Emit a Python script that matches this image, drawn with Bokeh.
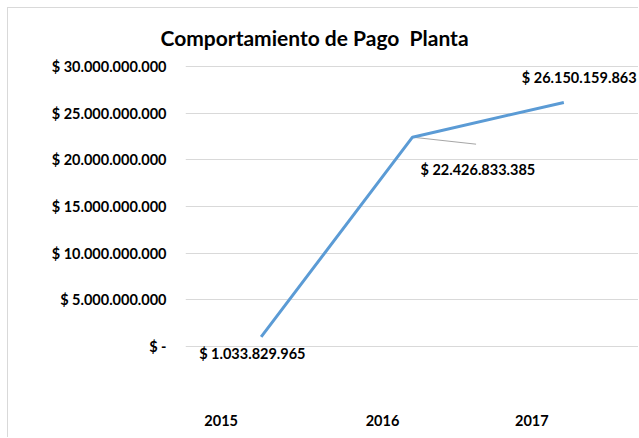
from bokeh.plotting import figure
from bokeh.models import ColumnDataSource, FactorRange, Range1d, FixedTicker
from bokeh.transform import dodge
from bokeh.core.properties import value
from bokeh.embed import file_html
from bokeh.resources import INLINE

# ---- data ----
years = ["2015", "2016", "2017"]
pagos = [1033829965, 22426833385, 26150159863]
pago_labels = ["$ 1.033.829.965", "$ 22.426.833.385", "$ 26.150.159.863"]
y_ticks = [0, 5000000000, 10000000000, 15000000000, 20000000000, 25000000000, 30000000000]
y_tick_labels = ["$ -", "$ 5.000.000.000", "$ 10.000.000.000", "$ 15.000.000.000",
                 "$ 20.000.000.000", "$ 25.000.000.000", "$ 30.000.000.000"]
title_text = "Comportamiento de Pago \u00a0Planta"

# ---- styling / placement (pixels) ----
FONT = "Lato"
label_dx = [-62, 8, -42]
label_dy = [17, 32, -25]
year_dx = [-40, -30, -32]
year_dy = [74, 74, 74]

src = ColumnDataSource(dict(year=years, pago=pagos, label=pago_labels,
                            dx=label_dx, dy=label_dy, ydx=year_dx, ydy=year_dy,
                            zero=[0, 0, 0]))

p = figure(width=631, height=430,
           x_range=FactorRange(*years), y_range=Range1d(-9.86e9, 31.18e9),
           output_backend="svg", toolbar_location=None,
           min_border_left=177, min_border_right=0, min_border_bottom=0, min_border_top=47,
           x_axis_location=None)
p.styles = {"margin-left": "7px", "margin-top": "7px",
            "border-left": "1px solid #d9d9d9", "border-top": "1px solid #d9d9d9"}
p.outline_line_color = None
p.background_fill_color = "white"
p.border_fill_color = "white"

p.title.text = title_text
p.title.align = "left"
p.title.offset = -25
p.title.text_font = FONT
p.title.text_font_size = "21px"
p.title.text_font_style = "bold"
p.title.text_color = "black"
p.title.standoff = 11

ax = p.yaxis[0]
ax.ticker = FixedTicker(ticks=y_ticks)
ax.major_label_overrides = {t: l for t, l in zip(y_ticks, y_tick_labels)}
ax.axis_line_color = None
ax.major_tick_line_color = None
ax.minor_tick_line_color = None
ax.major_tick_out = 0
ax.major_tick_in = 0
ax.major_label_standoff = 19
ax.major_label_text_font = FONT
ax.major_label_text_font_size = "14.5px"
ax.major_label_text_font_style = "bold"
ax.major_label_text_color = "black"

p.xgrid.visible = False
p.ygrid.grid_line_color = "#d9d9d9"
p.ygrid.grid_line_width = 1

# leader line for 2016 label
lead = ColumnDataSource(dict(year=[years[1]], pago=[pagos[1]], pago_end=[pagos[1] - 0.75e9]))
p.segment(x0="year", y0="pago", x1=dodge("year", 0.42, range=p.x_range), y1="pago_end",
          source=lead, line_color="#a6a6a6", line_width=1)

p.line(x="year", y="pago", source=src, line_color="#5b9bd5", line_width=3)

p.text(x="year", y="pago", text="label", source=src, x_offset="dx", y_offset="dy",
       text_align="left", text_baseline="middle", text_font=value(FONT),
       text_font_size="14.5px", text_font_style="bold", text_color="black")

p.text(x="year", y="zero", text="year", source=src, x_offset="ydx", y_offset="ydy",
       text_align="center", text_baseline="middle", text_font=value(FONT),
       text_font_size="14.5px", text_font_style="bold", text_color="black")

open("out.html", "w").write(file_html(p, INLINE))
